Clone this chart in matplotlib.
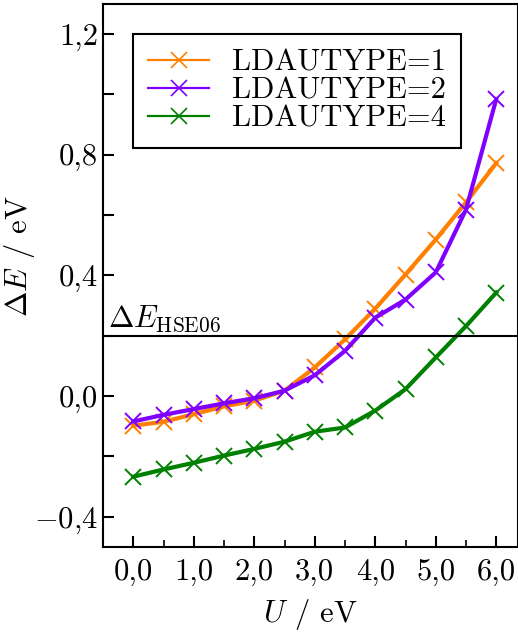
import matplotlib
matplotlib.use("Agg")
import matplotlib.pyplot as plt
from matplotlib.lines import Line2D
from matplotlib.ticker import MultipleLocator

# Hubbard U scan (eV) and band gap deviation for each LDAUTYPE
u_values = [0.0, 0.5, 1.0, 1.5, 2.0, 2.5, 3.0, 3.5, 4.0, 4.5, 5.0, 5.5, 6.0]
de_type1 = [-0.098, -0.085, -0.060, -0.034, -0.015, 0.018, 0.095, 0.188, 0.290, 0.403, 0.519, 0.642, 0.772]
de_type2 = [-0.084, -0.062, -0.043, -0.024, -0.007, 0.018, 0.069, 0.150, 0.260, 0.320, 0.410, 0.618, 0.984]
de_type4 = [-0.267, -0.243, -0.221, -0.197, -0.175, -0.151, -0.118, -0.104, -0.048, 0.023, 0.128, 0.232, 0.343]
de_hse06 = 0.2

series_labels = ["LDAUTYPE=1", "LDAUTYPE=2", "LDAUTYPE=4"]
series_colors = ["#ff8000", "#7f00ff", "#008000"]

x_ticks = [0, 1, 2, 3, 4, 5, 6]
x_ticklabels = ["0,0", "1,0", "2,0", "3,0", "4,0", "5,0", "6,0"]
y_ticks = [-0.4, 0.0, 0.4, 0.8, 1.2]
y_ticklabels = [r"$-$0,4", "0,0", "0,4", "0,8", "1,2"]

plt.rcParams["font.family"] = "serif"
plt.rcParams["font.serif"] = ["cmr10", "DejaVu Serif"]
plt.rcParams["mathtext.fontset"] = "cm"
plt.rcParams["font.size"] = 22
plt.rcParams["axes.unicode_minus"] = False

fig = plt.figure(figsize=(5.18, 6.39), dpi=100)
ax = fig.add_axes([0.199, 0.144, 0.801, 0.850])

for vals, col in zip([de_type1, de_type2, de_type4], series_colors):
    ax.plot(u_values, vals, color=col, lw=3.0, marker="x", ms=11, mew=1.4)

ax.axhline(de_hse06, color="black", lw=1.5)
ax.text(-0.42, de_hse06 + 0.005, r"$\Delta E_{\mathrm{HSE06}}$", va="bottom", ha="left")

ax.set_xlim(-0.5, 6.36)
ax.set_ylim(-0.5, 1.3)
ax.set_xticks(x_ticks)
ax.set_xticklabels(x_ticklabels)
ax.set_yticks(y_ticks)
ax.set_yticklabels(y_ticklabels)
ax.xaxis.set_minor_locator(MultipleLocator(0.5))
ax.yaxis.set_minor_locator(MultipleLocator(0.2))
ax.tick_params(which="major", direction="in", length=8, width=1.5, top=False, right=False)
ax.tick_params(which="minor", direction="in", length=5, width=1.2, top=False, right=False)
ax.tick_params(axis="y", which="minor", length=8, width=1.5)
ax.tick_params(axis="x", pad=8)
for sp in ax.spines.values():
    sp.set_linewidth(1.5)

ax.set_xlabel(r"$U$ / eV", labelpad=8)
ax.set_ylabel(r"$\Delta E$ / eV")
ax.yaxis.set_label_coords(-0.16, 0.536)

handles = [Line2D([], [], color=c, lw=1.6, marker="x", ms=11, mew=1.2) for c in series_colors]
leg = ax.legend(handles, series_labels, loc="upper left", bbox_to_anchor=(0.072, 0.945),
                borderaxespad=0, fancybox=False, framealpha=1, edgecolor="black",
                labelspacing=0.02, handlelength=2.0, borderpad=0.5, handletextpad=0.75)
leg.get_frame().set_linewidth(1.5)

fig.savefig("out.png", dpi=100)
